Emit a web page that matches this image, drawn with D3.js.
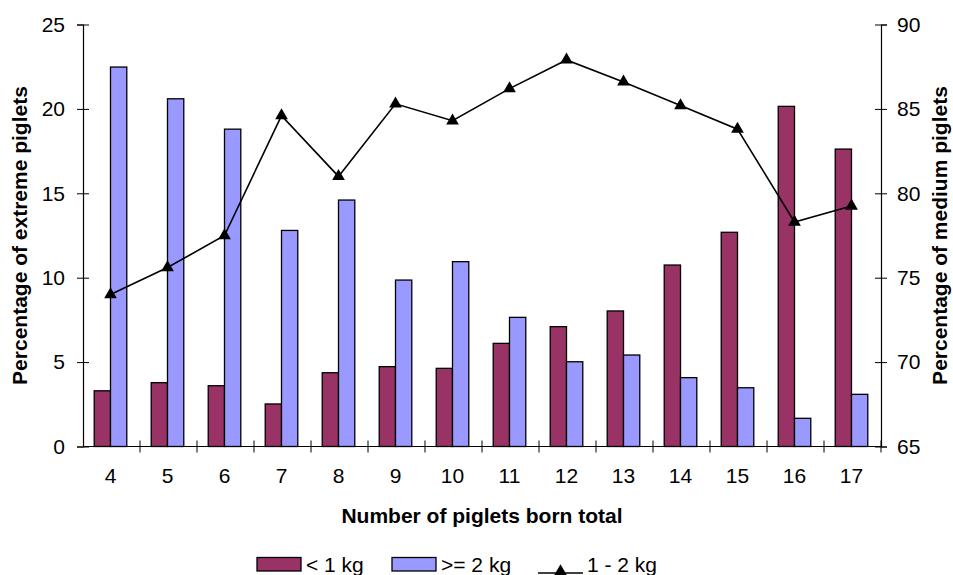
<!DOCTYPE html>
<html>
<head>
<meta charset="utf-8">
<script src="https://cdn.jsdelivr.net/npm/d3@7"></script>
<style>
  body { margin: 0; background: #fff; }
  text { font-family: "Liberation Sans", Arial, sans-serif; fill: #000; }
</style>
</head>
<body>
<svg id="grafico"></svg>
<script>
// datos
const categorias = [4, 5, 6, 7, 8, 9, 10, 11, 12, 13, 14, 15, 16, 17];
const menos1kg = [3.3, 3.78, 3.6, 2.52, 4.37, 4.73, 4.63, 6.11, 7.1, 8.03, 10.75, 12.69, 20.15, 17.62];
const mas2kg = [22.48, 20.6, 18.8, 12.8, 14.6, 9.86, 10.95, 7.65, 5.02, 5.42, 4.08, 3.48, 1.67, 3.09];
const medio = [74.0, 75.6, 77.5, 84.6, 81.0, 85.3, 84.3, 86.2, 87.9, 86.6, 85.2, 83.8, 78.3, 79.25];
const ticksIzq = [0, 5, 10, 15, 20, 25];
const ticksDer = [65, 70, 75, 80, 85, 90];

const WIDTH = 953,
	HEIGHT = 575;

const margins = { top: 24.5, bottom: 128.5, left: 83, right: 72 };
const anchoPlot = WIDTH - margins.left - margins.right;
const altoPlot = HEIGHT - margins.top - margins.bottom;

const colorMenos = "#993366",
	colorMas = "#9999ff";

const svg = d3.select("#grafico")
	.attr("width", WIDTH)
	.attr("height", HEIGHT);

const escalaX = d3.scaleBand()
	.domain(categorias)
	.range([0, anchoPlot]);

// dos barras por grupo, gap de 150%
const anchoBarra = escalaX.bandwidth() / 3.5;
const escalaSerie = d3.scaleBand()
	.domain(["menos", "mas"])
	.range([escalaX.bandwidth() / 2 - anchoBarra - 1, escalaX.bandwidth() / 2 + anchoBarra - 1]);

const escalaIzq = d3.scaleLinear().domain([0, 25]).range([altoPlot, 0]);
const escalaDer = d3.scaleLinear().domain([65, 90]).range([altoPlot, 0]);

const plot = svg.append("g")
	.attr("transform", `translate(${margins.left} ${margins.top})`);

// barras
const grupos = plot.selectAll("g.grupo")
	.data(categorias)
	.join("g")
	.attr("class", "grupo")
	.attr("transform", d => `translate(${escalaX(d)} 0)`);

grupos.append("rect")
	.attr("x", escalaSerie("menos"))
	.attr("y", (_, i) => escalaIzq(menos1kg[i]))
	.attr("width", escalaSerie.bandwidth())
	.attr("height", (_, i) => altoPlot - escalaIzq(menos1kg[i]))
	.attr("fill", colorMenos)
	.attr("stroke", "#000")
	.attr("stroke-width", 1.3);

grupos.append("rect")
	.attr("x", escalaSerie("mas"))
	.attr("y", (_, i) => escalaIzq(mas2kg[i]))
	.attr("width", escalaSerie.bandwidth())
	.attr("height", (_, i) => altoPlot - escalaIzq(mas2kg[i]))
	.attr("fill", colorMas)
	.attr("stroke", "#000")
	.attr("stroke-width", 1.3);

// ejes
const ejeIzq = plot.append("g")
	.call(d3.axisLeft(escalaIzq).tickValues(ticksIzq).tickSize(6).tickPadding(12));
ejeIzq.selectAll(".tick line").attr("x2", -6).attr("x1", 6);

const ejeDer = plot.append("g")
	.attr("transform", `translate(${anchoPlot} 0)`)
	.call(d3.axisRight(escalaDer).tickValues(ticksDer).tickSize(6).tickPadding(10));
ejeDer.selectAll(".tick line").attr("x1", -6).attr("x2", 6);

const ejeX = plot.append("g")
	.attr("transform", `translate(0 ${altoPlot})`)
	.call(d3.axisBottom(escalaX).tickSize(0).tickPadding(22));
ejeX.selectAll(".tick text").attr("dx", -1);

// marcas del eje x en los limites de las categorias
ejeX.selectAll("line.limite")
	.data(categorias.slice(1).concat(["fin"]))
	.join("line")
	.attr("class", "limite")
	.attr("x1", (d, i) => escalaX.step() * (i + 1))
	.attr("x2", (d, i) => escalaX.step() * (i + 1))
	.attr("y1", -6)
	.attr("y2", 6)
	.attr("stroke", "#000");

[ejeIzq, ejeDer, ejeX].forEach(e => {
	e.select(".domain").attr("stroke", "#000").attr("stroke-width", 1.2);
	e.selectAll("text").style("font-size", "21px").style("font-family", "Liberation Sans, Arial, sans-serif");
});
ejeX.select(".domain").attr("d", `M0,0H${anchoPlot}`);

// linea 1 - 2 kg
const linea = d3.line()
	.x((_, i) => escalaX(categorias[i]) + escalaX.bandwidth() / 2 - 1)
	.y(d => escalaDer(d));

plot.append("path")
	.datum(medio)
	.attr("d", linea)
	.attr("fill", "none")
	.attr("stroke", "#000")
	.attr("stroke-width", 1.6);

const triangulo = d3.symbol().type(d3.symbolTriangle).size(70);

plot.selectAll("path.marca")
	.data(medio)
	.join("path")
	.attr("class", "marca")
	.attr("d", triangulo)
	.attr("transform", (d, i) => `translate(${escalaX(categorias[i]) + escalaX.bandwidth() / 2 - 1} ${escalaDer(d)})`)
	.attr("fill", "#000");

// titulos
const titulos = svg.append("g")
	.style("font-weight", "bold")
	.style("font-size", "21px");

titulos.append("text")
	.attr("transform", `translate(27 ${margins.top + altoPlot / 2}) rotate(-90)`)
	.attr("text-anchor", "middle")
	.text("Percentage of extreme piglets");

titulos.append("text")
	.attr("transform", `translate(947 ${margins.top + altoPlot / 2}) rotate(-90)`)
	.attr("text-anchor", "middle")
	.text("Percentage of medium piglets");

titulos.append("text")
	.attr("x", margins.left + anchoPlot / 2)
	.attr("y", 523)
	.attr("text-anchor", "middle")
	.text("Number of piglets born total");

// leyenda
const leyenda = svg.append("g").style("font-size", "21px");
const itemsLeyenda = [
	{ nombre: "< 1 kg", tipo: "barra", color: colorMenos, x: 257 },
	{ nombre: ">= 2 kg", tipo: "barra", color: colorMas, x: 392 },
	{ nombre: "1 - 2 kg", tipo: "linea", x: 538 }
];

itemsLeyenda.forEach(it => {
	if (it.tipo === "barra") {
		leyenda.append("rect")
			.attr("x", it.x).attr("y", 557.5)
			.attr("width", 44).attr("height", 13.5)
			.attr("fill", it.color)
			.attr("stroke", "#000")
			.attr("stroke-width", 1.3);
		leyenda.append("text")
			.attr("x", it.x + 49).attr("y", 572)
			.text(it.nombre);
	} else {
		leyenda.append("line")
			.attr("x1", it.x).attr("x2", it.x + 45)
			.attr("y1", 573).attr("y2", 573)
			.attr("stroke", "#000").attr("stroke-width", 1.5);
		leyenda.append("path")
			.attr("d", triangulo)
			.attr("transform", `translate(${it.x + 22.5} 571.5)`)
			.attr("fill", "#000");
		leyenda.append("text")
			.attr("x", it.x + 49).attr("y", 572)
			.text(it.nombre);
	}
});
</script>
</body>
</html>
